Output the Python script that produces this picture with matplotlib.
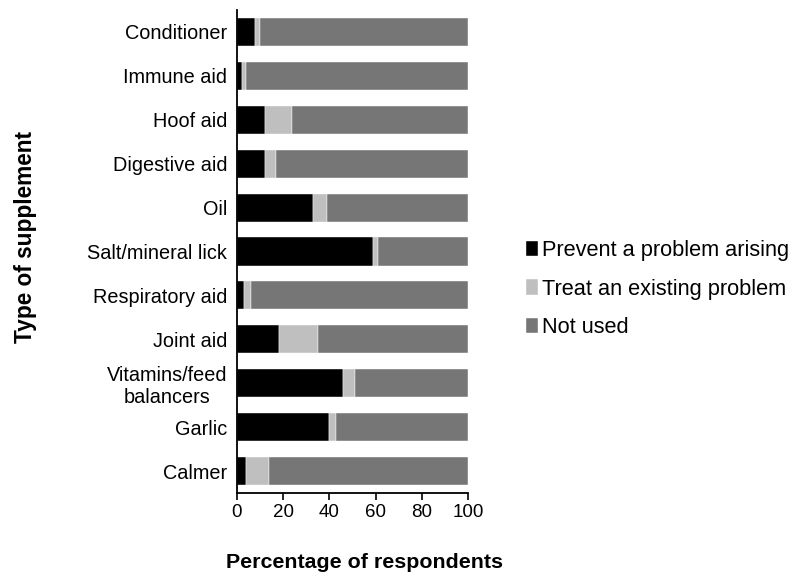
import matplotlib
matplotlib.use("Agg")
import matplotlib.pyplot as plt
import numpy as np

categories = ["Conditioner", "Immune aid", "Hoof aid", "Digestive aid", "Oil",
              "Salt/mineral lick", "Respiratory aid", "Joint aid",
              "Vitamins/feed\nbalancers", "Garlic", "Calmer"]
prevent = [8, 2, 12, 12, 33, 59, 3, 18, 46, 40, 4]
treat = [2, 2, 12, 5, 6, 2, 3, 17, 5, 3, 10]
not_used = [90, 96, 76, 83, 61, 39, 94, 65, 49, 57, 86]
series_names = ["Prevent a problem arising", "Treat an existing problem", "Not used"]
colors = ["#000000", "#BFBFBF", "#767676"]
xticks = [0, 20, 40, 60, 80, 100]

plt.rcParams['font.family'] = ['Liberation Sans', 'DejaVu Sans']

fig = plt.figure(figsize=(7.97, 5.75), dpi=100)
ax = fig.add_axes([237/797, 1 - 493/575, (468-237)/797, (493-10)/575])

y = np.arange(len(categories))
left = np.zeros(len(categories))
for vals, name, c in zip([prevent, treat, not_used], series_names, colors):
    ax.barh(y, vals, left=left, height=0.64, color=c, label=name,
            edgecolor='white', linewidth=0.3)
    left += np.array(vals)

ax.set_ylim(len(categories) - 0.5, -0.5)
ax.set_xlim(0, 100)
ax.set_xticks(xticks)
ax.set_yticks(y)
ax.set_yticklabels(categories, fontsize=14.3, ha='right', multialignment='center')
ax.tick_params(axis='y', length=0, pad=7)
ax.tick_params(axis='x', labelsize=13.5, length=5, width=1.2, direction='out', pad=3)
for s in ['top', 'right']:
    ax.spines[s].set_visible(False)
for s in ['left', 'bottom']:
    ax.spines[s].set_linewidth(1.3)

fig.text(25.5/797, 1 - 237/575, "Type of supplement", rotation=90, fontsize=16.3,
         fontweight='bold', ha='center', va='center')
fig.text(365/797, 1 - 563/575, "Percentage of respondents", fontsize=15.4,
         fontweight='bold', ha='center', va='center')

leg = fig.legend(loc='center left', bbox_to_anchor=(526/797, 1 - 289/575),
                 frameon=False, fontsize=15.7, handlelength=0.55, handleheight=0.7,
                 handletextpad=0.2, labelspacing=0.8, borderaxespad=0, borderpad=0)

fig.savefig("out.png", dpi=100)
